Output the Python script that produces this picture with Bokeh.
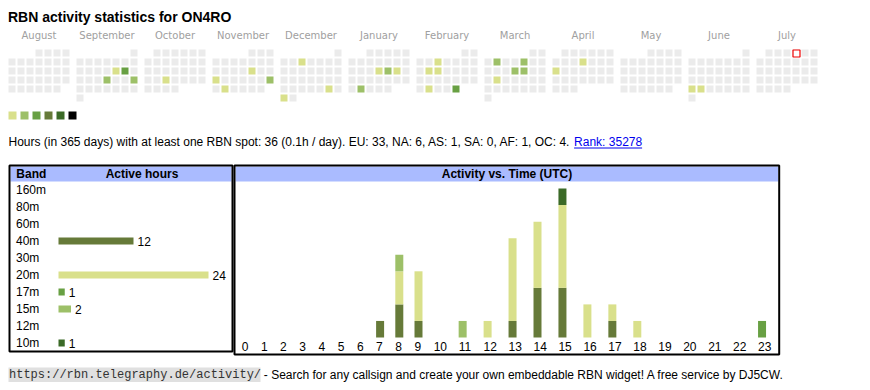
import datetime as dt
import calendar
from bokeh.plotting import figure
from bokeh.models import Range1d, ColumnDataSource
from bokeh.core.properties import value
from bokeh.embed import file_html
from bokeh.resources import INLINE

# ---------------- data ----------------
callsign = "ON4RO"
month_names = ["August", "September", "October", "November", "December", "January",
               "February", "March", "April", "May", "June", "July"]
month_keys = [(2024, 8), (2024, 9), (2024, 10), (2024, 11), (2024, 12), (2025, 1),
              (2025, 2), (2025, 3), (2025, 4), (2025, 5), (2025, 6), (2025, 7)]
level_colors = ["#d9e08b", "#9dc068", "#68a043", "#667a39", "#3b6a27", "#000000"]
active_days = ["2024-09-13", "2024-09-14", "2024-09-19", "2024-09-22", "2024-10-23",
               "2024-11-15", "2024-11-18", "2024-11-24", "2024-11-26",
               "2024-12-04", "2024-12-28", "2024-12-30",
               "2025-01-16", "2025-01-17", "2025-01-18", "2025-01-28",
               "2025-02-05", "2025-02-11", "2025-02-12", "2025-02-25", "2025-02-28",
               "2025-03-04", "2025-03-07", "2025-03-13", "2025-03-14", "2025-03-18",
               "2025-04-10", "2025-04-14", "2025-06-23", "2025-06-24"]
active_levels = [1, 3, 2, 2, 1,
                 1, 1, 2, 1,
                 1, 1, 1,
                 1, 2, 1, 2,
                 1, 1, 1, 1, 3,
                 2, 2, 2, 2, 1,
                 1, 1, 1, 1]
today = "2025-07-04"

stats_text = ("Hours (in 365 days) with at least one RBN spot: 36 (0.1h / day). "
              "EU: 33, NA: 6, AS: 1, SA: 0, AF: 1, OC: 4.")
rank_text = "Rank: 35278"

bands = ["160m", "80m", "60m", "40m", "30m", "20m", "17m", "15m", "12m", "10m"]
band_hours = [0, 0, 0, 12, 0, 24, 1, 2, 0, 1]
band_colors = ["#000000", "#3b6a27", "#68a043", "#667a39", "#9dc068", "#d9e08b",
               "#68a043", "#9dc068", "#d9e08b", "#3b6a27"]

hours = list(range(24))
hour_labels = [str(h) for h in hours]
h_40m = [0, 0, 0, 0, 0, 0, 0, 1, 2, 1, 0, 0, 0, 1, 3, 3, 0, 1, 0, 0, 0, 0, 0, 0]
h_20m = [0, 0, 0, 0, 0, 0, 0, 0, 2, 3, 0, 0, 1, 5, 4, 5, 2, 1, 1, 0, 0, 0, 0, 0]
h_17m = [0, 0, 0, 0, 0, 0, 0, 0, 0, 0, 0, 0, 0, 0, 0, 0, 0, 0, 0, 0, 0, 0, 0, 1]
h_15m = [0, 0, 0, 0, 0, 0, 0, 0, 1, 0, 0, 1, 0, 0, 0, 0, 0, 0, 0, 0, 0, 0, 0, 0]
h_10m = [0, 0, 0, 0, 0, 0, 0, 0, 0, 0, 0, 0, 0, 0, 0, 1, 0, 0, 0, 0, 0, 0, 0, 0]

footer_url = "https://rbn.telegraphy.de/activity/"
footer_text = "- Search for any callsign and create your own embeddable RBN widget! A free service by DJ5CW."

# ---------------- layout constants (window pixels) ----------------
W, H = 870, 390
SANS = value("Liberation Sans")
GREY = "#ebebeb"
MID = "middle"

p = figure(width=W, height=H, x_range=Range1d(0, W), y_range=Range1d(H, 0),
           output_backend="svg", toolbar_location=None, min_border=0,
           x_axis_location=None, y_axis_location=None)
p.grid.visible = False
p.outline_line_color = None
p.background_fill_color = "white"
p.border_fill_color = "white"

# scales for the two tables
unit_px = 16.55          # px per active hour in time chart
base_y = 337.0           # baseline of time chart
cnt_start = -(H - base_y) / unit_px
p.extra_y_ranges["cnt"] = Range1d(start=cnt_start, end=cnt_start + H / unit_px)
row_px = 17.0
row0_y = 189.5
p.extra_y_ranges["row"] = Range1d(start=(H - row0_y) / row_px, end=(0 - row0_y) / row_px)
hr_px = 6.25
bar0_x = 58.0
hs = -bar0_x / hr_px
p.extra_x_ranges["hrs"] = Range1d(start=hs, end=hs + W / hr_px)

# ---------------- title ----------------
p.text(x=[7.5], y=[16], text=[f"RBN activity statistics for {callsign}"], text_font=SANS,
       text_font_size="14px", text_font_style="bold", text_baseline=MID,
       text_color="#000000")

# ---------------- calendar ----------------
active = {d: lv for d, lv in zip(active_days, active_levels)}
cx, cy, cc = [], [], []
lab_x = []
today_xy = None
for i, (yr, mo) in enumerate(month_keys):
    left = 8 + 68 * i
    lab_x.append(left + 30.5)
    first_wd = dt.date(yr, mo, 1).weekday()
    ndays = calendar.monthrange(yr, mo)[1]
    for d in range(1, ndays + 1):
        pos = first_wd + d - 1
        r, c = divmod(pos, 7)
        x = left + 3.5 + 9 * c
        y = 52.5 + 9 * r
        key = f"{yr:04d}-{mo:02d}-{d:02d}"
        cx.append(x)
        cy.append(y)
        cc.append(level_colors[active[key] - 1] if key in active else GREY)
        if key == today:
            today_xy = (x, y)
p.rect(x=cx, y=cy, width=7, height=7, fill_color=cc, line_color=None)
if today_xy:
    p.rect(x=[today_xy[0] + 0.5], y=[today_xy[1] + 0.5], width=7, height=7,
           fill_color="white", line_color="#ee0000", line_width=1.2)
p.text(x=lab_x, y=[35] * len(lab_x), text=month_names, text_font=value("DejaVu Sans"),
       text_font_size="10px", text_align="center", text_baseline=MID,
       text_color="#a0a0a0")

# legend squares
p.rect(x=[12 + 12 * k for k in range(len(level_colors))], y=[115] * len(level_colors),
       width=8, height=8, fill_color=level_colors, line_color=None)

# stats line
p.text(x=[8], y=[141.5], text=[stats_text], text_font=SANS, text_font_size="12px",
       text_baseline=MID, text_color="#000000")
p.text(x=[573.6], y=[141.5], text=[rank_text], text_font=SANS, text_font_size="12px",
       text_baseline=MID, text_color="#0000ee")
p.segment(x0=[573.6], y0=[147.5], x1=[641.6], y1=[147.5], line_color="#0000ee", line_width=1)

# ---------------- tables frames ----------------
p.quad(left=[10, 235], right=[231, 777.7], top=[166, 166], bottom=[181, 181],
       fill_color="#aabbff", line_color=None)
p.quad(left=[9, 234], right=[232, 778.7], top=[165, 165], bottom=[351, 354],
       fill_color=None, line_color="#000000", line_width=2)
p.text(x=[15.8], y=[173], text=["Band"], text_font=SANS, text_font_size="12px",
       text_font_style="bold", text_baseline=MID, text_color="#000000")
p.text(x=[141.5, 506.5], y=[173, 173], text=["Active hours", "Activity vs. Time (UTC)"],
       text_font=SANS, text_font_size="12px", text_font_style="bold",
       text_baseline=MID, text_align="center", text_color="#000000")

# band table
rows = list(range(len(bands)))
p.text(x=[15.5] * len(bands), y=rows, text=bands, text_font=SANS, text_font_size="12px",
       text_baseline=MID, y_range_name="row", text_color="#000000")
nz = [i for i, v in enumerate(band_hours) if v > 0]
p.hbar(y=[rows[i] for i in nz], left=0, right=[band_hours[i] for i in nz], height=7 / row_px,
       fill_color=[band_colors[i] for i in nz], line_color=None,
       x_range_name="hrs", y_range_name="row")
p.text(x=[band_hours[i] for i in nz], y=[rows[i] for i in nz],
       text=[str(band_hours[i]) for i in nz], x_offset=4,
       text_font=SANS, text_font_size="12px", text_baseline=MID,
       x_range_name="hrs", y_range_name="row", text_color="#000000")

# time chart: html-table-like column widths from label lengths
cell_w = [13.45 + 5.75 * len(l) for l in hour_labels]
lefts = []
acc = 241.2
for w in cell_w:
    lefts.append(acc)
    acc += w
src = ColumnDataSource(dict(x=[l + 4 for l in lefts], b40=h_40m, b20=h_20m,
                            b17=h_17m, b15=h_15m, b10=h_10m))
p.vbar_stack(["b40", "b20", "b17", "b15", "b10"], x="x", width=8,
             fill_color=[band_colors[3], band_colors[5], band_colors[6], band_colors[7], band_colors[9]],
             line_color=None, source=src, y_range_name="cnt")
p.text(x=lefts, y=[345.8] * 24, text=hour_labels, text_font=SANS, text_font_size="12px",
       text_baseline=MID, text_color="#000000")

# ---------------- footer ----------------
p.quad(left=[8], right=[260], top=[367], bottom=[381.5], fill_color="#e0e0e0", line_color=None)
p.text(x=[8.5], y=[374], text=[footer_url], text_font=value("Liberation Mono"),
       text_font_size="12px", text_baseline=MID, text_color="#333333")
p.text(x=[263.3], y=[374], text=[footer_text], text_font=SANS, text_font_size="12px",
       text_baseline=MID, text_color="#000000")

open("out.html", "w").write(file_html(p, INLINE))
